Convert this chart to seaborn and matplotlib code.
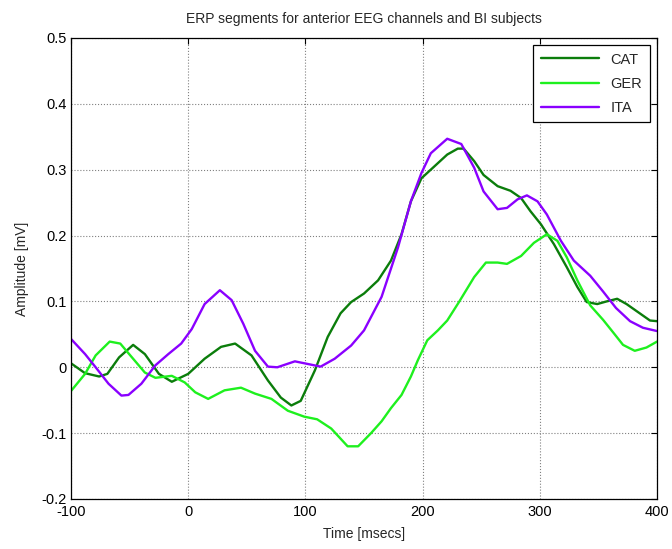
import pandas as pd
import matplotlib
matplotlib.use('Agg')
import matplotlib.pyplot as plt
from matplotlib.ticker import FormatStrFormatter
import seaborn as sns

# ERP segments
cat_time = [-100, -88, -76, -69, -59, -47, -37, -25, -14, 0, 14, 28, 40, 54, 68, 79, 88, 96, 108,
            119, 130, 139, 150, 162, 173, 182, 190, 199, 210, 221, 230, 235, 244, 252, 264, 275,
            284, 292, 301, 312, 323, 332, 340, 349, 357, 366, 374, 386, 394, 400]
cat_amp = [0.006, -0.009, -0.014, -0.010, 0.015, 0.034, 0.020, -0.010, -0.022, -0.010, 0.013,
           0.031, 0.036, 0.018, -0.020, -0.046, -0.058, -0.051, -0.005, 0.046, 0.082, 0.099,
           0.112, 0.132, 0.162, 0.202, 0.252, 0.287, 0.305, 0.323, 0.332, 0.332, 0.313, 0.292,
           0.275, 0.268, 0.257, 0.237, 0.217, 0.187, 0.152, 0.122, 0.099, 0.096, 0.100, 0.104,
           0.096, 0.081, 0.071, 0.070]

ger_time = [-100, -88, -79, -67, -58, -48, -37, -28, -14, -3, 6, 17, 31, 45, 57, 71, 85, 99, 110,
            122, 136, 145, 156, 165, 173, 182, 190, 196, 204, 213, 221, 231, 244, 254, 264, 272,
            284, 295, 306, 315, 323, 332, 343, 354, 363, 371, 381, 391, 400]
ger_amp = [-0.036, -0.010, 0.018, 0.039, 0.036, 0.015, -0.008, -0.016, -0.013, -0.023, -0.038,
           -0.048, -0.035, -0.031, -0.040, -0.048, -0.066, -0.075, -0.079, -0.093, -0.120,
           -0.120, -0.100, -0.082, -0.062, -0.042, -0.014, 0.011, 0.041, 0.056, 0.071, 0.099,
           0.137, 0.159, 0.159, 0.157, 0.169, 0.189, 0.202, 0.192, 0.167, 0.132, 0.094, 0.072,
           0.052, 0.034, 0.025, 0.030, 0.039]

ita_time = [-100, -88, -79, -68, -57, -51, -40, -28, -17, -6, 3, 14, 27, 37, 47, 57, 68, 76, 91,
            102, 113, 125, 139, 150, 165, 179, 190, 199, 207, 221, 233, 244, 252, 264, 272, 281,
            289, 298, 306, 318, 329, 343, 354, 365, 377, 388, 400]
ita_amp = [0.043, 0.020, 0.000, -0.025, -0.043, -0.042, -0.025, 0.003, 0.020, 0.036, 0.058,
           0.096, 0.117, 0.102, 0.066, 0.025, 0.001, 0.000, 0.009, 0.005, 0.001, 0.013, 0.033,
           0.056, 0.107, 0.182, 0.252, 0.295, 0.325, 0.347, 0.339, 0.303, 0.267, 0.240, 0.242,
           0.255, 0.261, 0.252, 0.232, 0.192, 0.162, 0.139, 0.115, 0.090, 0.070, 0.060, 0.055]

groups = ['CAT', 'GER', 'ITA']
colors = {'CAT': '#0b7d0b', 'GER': '#1ef01e', 'ITA': '#8a00ff'}

data = pd.concat([
    pd.DataFrame({'time': cat_time, 'amp': cat_amp, 'group': 'CAT'}),
    pd.DataFrame({'time': ger_time, 'amp': ger_amp, 'group': 'GER'}),
    pd.DataFrame({'time': ita_time, 'amp': ita_amp, 'group': 'ITA'}),
], ignore_index=True)

sns.set_style('white')
plt.rcParams['font.family'] = ['Liberation Sans', 'DejaVu Sans']
plt.rcParams['axes.unicode_minus'] = False

fig = plt.figure(figsize=(6.72, 5.49), dpi=100)
ax = fig.add_axes([0.1057, 0.0911, 0.872, 0.8397])

sns.lineplot(data=data, x='time', y='amp', hue='group', hue_order=groups,
             palette=colors, linewidth=1.7, sort=False, ax=ax)

ax.set_xlim(-100, 400)
ax.set_ylim(-0.2, 0.5)
ax.set_xticks(range(-100, 401, 100))
ax.set_yticks([-0.2, -0.1, 0, 0.1, 0.2, 0.3, 0.4, 0.5])
ax.yaxis.set_major_formatter(FormatStrFormatter('%g'))
ax.grid(True, color='#808080', linestyle=':', linewidth=0.8)
ax.tick_params(direction='in', top=True, right=True, length=4, width=0.8,
               labelsize=10.5, colors='black')
ax.tick_params(axis='x', pad=4)
ax.tick_params(axis='y', pad=3)
for side in ax.spines.values():
    side.set_color('black')
    side.set_linewidth(0.9)

ax.set_title('ERP segments for anterior EEG channels and BI subjects', fontsize=10, pad=11)
ax.set_xlabel('Time [msecs]', fontsize=10, labelpad=6)
ax.set_ylabel('Amplitude [mV]', fontsize=10, labelpad=9)

leg = ax.legend(loc='upper right', fontsize=10.5, frameon=True, fancybox=False,
                edgecolor='black', framealpha=1, borderaxespad=0.5, handlelength=4.0,
                labelspacing=0.7, borderpad=0.5)
leg.get_frame().set_linewidth(0.9)

fig.savefig('out.png', dpi=100)
